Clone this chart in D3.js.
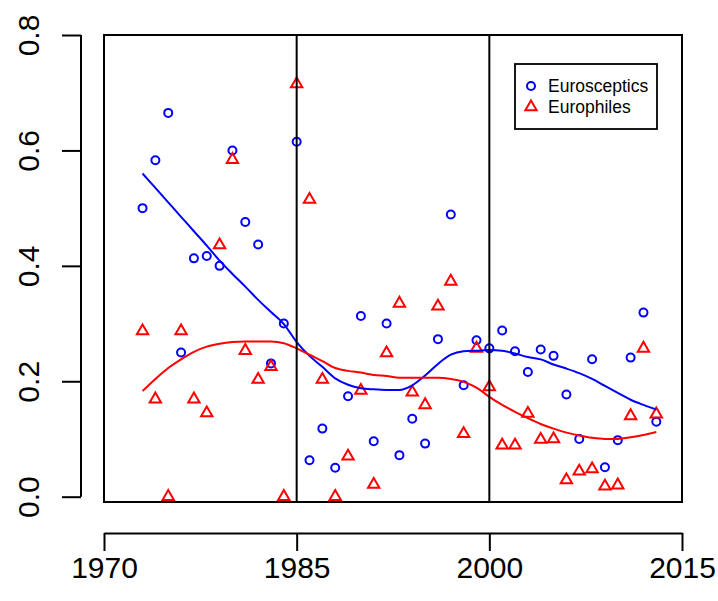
<!DOCTYPE html>
<html>
<head>
<meta charset="utf-8">
<script src="https://cdn.jsdelivr.net/npm/d3@7"></script>
<style>
  body { margin: 0; background: #fff; }
  svg { display: block; font-family: "Liberation Sans", Arial, sans-serif; }
</style>
</head>
<body>
<div id="chart"></div>
<script>
// years of observation
const years = d3.range(1973, 2014);

// share per year
const eurosceptics = [
  0.500, 0.583, 0.665, 0.250, 0.413, 0.417, 0.400, 0.600, 0.476, 0.437,
  0.231, 0.300, 0.615, 0.063, 0.118, 0.050, 0.174, 0.313, 0.096, 0.300,
  0.072, 0.135, 0.092, 0.273, 0.489, 0.193, 0.271, 0.257, 0.288, 0.252,
  0.216, 0.255, 0.244, 0.177, 0.100, 0.238, 0.051, 0.098, 0.241, 0.319,
  0.130
];
const europhiles = [
  0.287, 0.169, 0.000, 0.287, 0.169, 0.145, 0.436, 0.584, 0.253, 0.203,
  0.225, 0.000, 0.715, 0.515, 0.203, 0.000, 0.070, 0.184, 0.021, 0.249,
  0.335, 0.181, 0.159, 0.330, 0.373, 0.109, 0.257, 0.190, 0.089, 0.089,
  0.144, 0.099, 0.100, 0.029, 0.044, 0.048, 0.018, 0.020, 0.140, 0.257,
  0.143
];

// smoothed curves
const smoothSceptics = [
  0.560, 0.535, 0.510, 0.485, 0.460, 0.435, 0.409, 0.386, 0.364, 0.341,
  0.320, 0.299, 0.268, 0.244, 0.225, 0.205, 0.194, 0.188, 0.186, 0.185,
  0.185, 0.193, 0.210, 0.230, 0.246, 0.252, 0.253, 0.254, 0.253, 0.248,
  0.242, 0.238, 0.229, 0.222, 0.214, 0.204, 0.192, 0.180, 0.168, 0.159,
  0.151
];
const smoothPhiles = [
  0.183, 0.204, 0.223, 0.238, 0.251, 0.260, 0.265, 0.268, 0.269, 0.269,
  0.269, 0.266, 0.257, 0.246, 0.235, 0.223, 0.218, 0.215, 0.211, 0.209,
  0.206, 0.206, 0.206, 0.206, 0.204, 0.199, 0.189, 0.173, 0.159, 0.147,
  0.136, 0.126, 0.118, 0.111, 0.106, 0.102, 0.100, 0.100, 0.103, 0.107,
  0.112
];

const xTicks = [1970, 1985, 2000, 2015];
const yTicks = [0, 0.2, 0.4, 0.6, 0.8];
const breaks = [1985, 2000];
const seriesNames = ['Eurosceptics', 'Europhiles'];

const width = 718, height = 601;
const blue = '#0000ff', red = '#ff0000';

const svg = d3.select('#chart')
  .append('svg')
  .attr('width', width)
  .attr('height', height);

const x = d3.scaleLinear().domain([1970, 2015]).range([104, 682]);
const y = d3.scaleLinear().domain([-0.0092, 0.8]).range([502, 35]);

// plot frame
svg.append('rect')
  .attr('x', x(1970))
  .attr('y', y(0.8))
  .attr('width', x(2015) - x(1970))
  .attr('height', y(-0.0092) - y(0.8))
  .attr('fill', 'none')
  .attr('stroke', '#000')
  .attr('stroke-width', 2);

// x axis, R style below the frame
const xAxis = svg.append('g')
  .attr('transform', 'translate(0,533)')
  .call(d3.axisBottom(x).tickValues(xTicks).tickFormat(d3.format('d'))
    .tickSize(18).tickSizeOuter(0).tickPadding(6));
xAxis.selectAll('text').attr('font-size', 30).attr('font-family', null).attr('fill', '#000');

// y axis, labels turned sideways
const yAxis = svg.append('g')
  .attr('transform', 'translate(81,0)')
  .call(d3.axisLeft(y).tickValues(yTicks).tickFormat(d3.format('.1f'))
    .tickSize(19).tickSizeOuter(0));
yAxis.select('.domain').attr('d', `M0,${y(0)}V${y(0.8)}`);
yAxis.selectAll('text')
  .attr('font-size', 30)
  .attr('font-family', null)
  .attr('fill', '#000')
  .attr('x', null)
  .attr('dy', null)
  .attr('text-anchor', 'middle')
  .attr('transform', 'translate(-42,0) rotate(-90)');

svg.selectAll('.domain, .tick line')
  .attr('stroke', '#000')
  .attr('stroke-width', 2);

// points
const tri = d3.symbol().type(d3.symbolTriangle).size(56);

svg.append('g')
  .selectAll('circle')
  .data(years)
  .enter()
  .append('circle')
  .attr('cx', (d) => x(d))
  .attr('cy', (d, i) => y(eurosceptics[i]))
  .attr('r', 4)
  .attr('fill', 'none')
  .attr('stroke', blue)
  .attr('stroke-width', 2);

svg.append('g')
  .selectAll('path')
  .data(years)
  .enter()
  .append('path')
  .attr('d', tri)
  .attr('transform', (d, i) => `translate(${x(d)},${y(europhiles[i])})`)
  .attr('fill', 'none')
  .attr('stroke', red)
  .attr('stroke-width', 2);

// smoothed lines
const line = d3.line()
  .x((d) => x(d[0]))
  .y((d) => y(d[1]))
  .curve(d3.curveMonotoneX);

svg.append('path')
  .attr('d', line(d3.zip(years, smoothSceptics)))
  .attr('fill', 'none')
  .attr('stroke', blue)
  .attr('stroke-width', 2);

svg.append('path')
  .attr('d', line(d3.zip(years, smoothPhiles)))
  .attr('fill', 'none')
  .attr('stroke', red)
  .attr('stroke-width', 2);

// period breaks
svg.selectAll('.break')
  .data(breaks)
  .enter()
  .append('line')
  .attr('class', 'break')
  .attr('x1', (d) => x(d))
  .attr('x2', (d) => x(d))
  .attr('y1', y(0.8))
  .attr('y2', y(-0.0092))
  .attr('stroke', '#000')
  .attr('stroke-width', 2);

// legend
const legend = svg.append('g').attr('transform', 'translate(515,64)');
legend.append('rect')
  .attr('width', 142)
  .attr('height', 65)
  .attr('fill', '#fff')
  .attr('stroke', '#000')
  .attr('stroke-width', 1.8);

const rows = legend.selectAll('.row')
  .data(seriesNames)
  .enter()
  .append('g')
  .attr('class', 'row')
  .attr('transform', (d, i) => `translate(16,${22 + i * 21})`);

rows.filter((d, i) => i === 0).append('circle')
  .attr('r', 4)
  .attr('fill', 'none')
  .attr('stroke', blue)
  .attr('stroke-width', 2);

rows.filter((d, i) => i === 1).append('path')
  .attr('d', tri)
  .attr('fill', 'none')
  .attr('stroke', red)
  .attr('stroke-width', 2);

rows.append('text')
  .attr('x', 17)
  .attr('dy', '0.35em')
  .attr('font-size', 17.5)
  .text((d) => d);
</script>
</body>
</html>
